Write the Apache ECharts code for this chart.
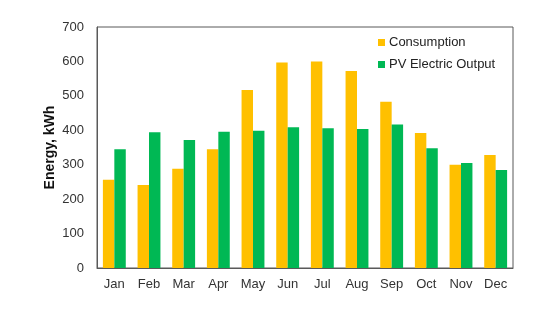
<!DOCTYPE html>
<html>
<head>
<meta charset="utf-8">
<script src="https://cdn.jsdelivr.net/npm/echarts@6/dist/echarts.min.js"></script>
<style>html,body{margin:0;padding:0;background:#fff;}#c{width:554px;height:311px;}</style>
</head>
<body>
<div id="c"></div>
<script>
var months = ['Jan','Feb','Mar','Apr','May','Jun','Jul','Aug','Sep','Oct','Nov','Dec'];
var consumption = [256, 241, 288, 345, 517, 597, 600, 572, 483, 392, 300, 328];
var pvOutput = [345, 394, 372, 396, 399, 409, 406, 404, 417, 348, 305, 285];
var yTicks = [0, 100, 200, 300, 400, 500, 600, 700];

var chart = echarts.init(document.getElementById('c'), null, {renderer: 'canvas'});
var font = 'Liberation Sans, Arial, sans-serif';
chart.setOption({
  animation: false,
  textStyle: {fontFamily: font},
  grid: {left: 97, right: 41, top: 27, bottom: 43, show: true, borderColor: '#595959', borderWidth: 1, backgroundColor: 'transparent'},
  legend: {
    orient: 'vertical', left: 373, top: 31,
    itemWidth: 7, itemHeight: 7, itemGap: 9,
    icon: 'rect',
    textStyle: {fontSize: 13, color: '#222', fontFamily: font, padding: [0,0,0,-1]},
    data: ['Consumption', 'PV Electric Output']
  },
  xAxis: {
    type: 'category', data: months,
    axisLine: {lineStyle: {color: '#595959', width: 1}},
    axisTick: {show: false},
    axisLabel: {fontSize: 13, color: '#333', margin: 10, fontFamily: font}
  },
  yAxis: {
    type: 'value', min: yTicks[0], max: yTicks[yTicks.length-1], interval: 100,
    name: 'Energy, kWh', nameLocation: 'middle', nameGap: 40, nameMoveOverlap: false,
    nameTextStyle: {fontSize: 14, fontWeight: 'bold', color: '#111', fontFamily: font},
    axisLine: {show: true, lineStyle: {color: '#595959', width: 1}},
    axisTick: {show: false},
    splitLine: {show: false},
    axisLabel: {fontSize: 13, color: '#333', margin: 13, fontFamily: font}
  },
  series: [
    {name: 'Consumption', type: 'bar', data: consumption, itemStyle: {color: '#FFC000'}, barGap: '0%', barCategoryGap: '34%'},
    {name: 'PV Electric Output', type: 'bar', data: pvOutput, itemStyle: {color: '#00B854'}}
  ]
});
</script>
</body>
</html>
